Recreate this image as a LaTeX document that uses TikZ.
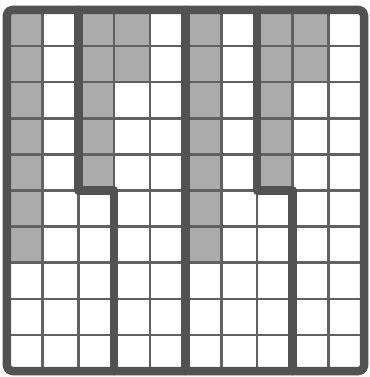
\documentclass[tikz,border=0pt]{standalone}
\begin{document}
\begin{tikzpicture}[x=35.7pt,y=-36.1pt,
  cellshade/.style={fill=black!33},
  thinline/.style={draw=black!62,line width=2.6pt},
  thickline/.style={draw=black!68,line width=8.5pt,line cap=round,line join=round}]
\useasboundingbox[fill=white] (-0.196,-0.277) rectangle (10.140,10.166);
% shaded cells
\fill[cellshade] (0,0) rectangle (1,7);
\fill[cellshade] (2,0) rectangle (3,5);
\fill[cellshade] (3,0) rectangle (4,2);
\fill[cellshade] (5,0) rectangle (6,7);
\fill[cellshade] (7,0) rectangle (8,5);
\fill[cellshade] (8,0) rectangle (9,2);
% thin grid
\foreach \i in {1,...,9} {
  \draw[thinline] (\i,0) -- (\i,10);
  \draw[thinline] (0,\i) -- (10,\i);
}
% region boundaries
\draw[thickline] (2,0) -- (2,5) -- (3,5) -- (3,10);
\draw[thickline] (5,0) -- (5,10);
\draw[thickline] (7,0) -- (7,5) -- (8,5) -- (8,10);
\draw[thickline,rounded corners=5pt] (0,0) rectangle (10,10);
\end{tikzpicture}
\end{document}
